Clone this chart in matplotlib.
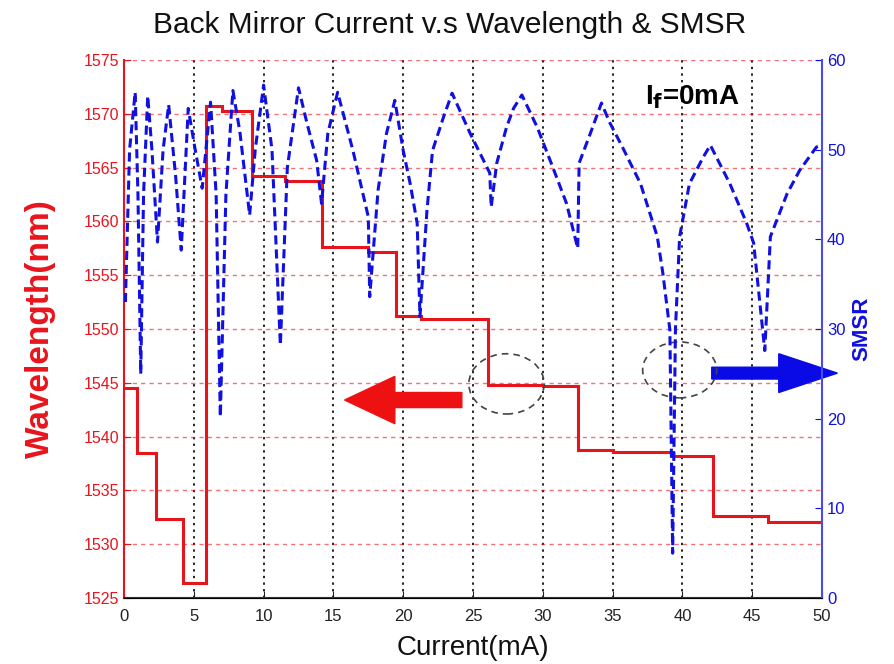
import matplotlib
matplotlib.use("Agg")
import matplotlib.pyplot as plt
from matplotlib.patches import Ellipse, FancyArrow

plt.rcParams["font.family"] = ["Liberation Sans", "DejaVu Sans"]

# wavelength step curve (left axis): step edges in mA and level in nm
wl_edges = [0, 0.9, 2.3, 4.2, 5.9, 7.0, 9.15, 11.5, 14.15, 17.5, 19.5, 21.3,
            26.1, 30.0, 32.5, 35.0, 39.3, 42.2, 46.1, 50]
wl_levels = [1544.5, 1538.5, 1532.3, 1526.4, 1570.7, 1570.3, 1564.2, 1563.8,
             1557.6, 1557.2, 1551.2, 1550.9, 1544.8, 1544.7, 1538.75, 1538.6,
             1538.2, 1532.6, 1532.1]

# SMSR curve (right axis)
smsr_x = [0.1, 0.4, 0.8, 1.0, 1.2, 1.4, 1.7, 2.0, 2.4, 2.8, 3.2, 3.7, 4.1,
          4.6, 5.1, 5.6, 6.2, 6.6, 6.9, 7.3, 7.8, 8.3, 9.0, 9.4, 10.0, 10.6,
          11.2, 11.7, 12.5, 13.1, 13.8, 14.15, 14.6, 15.3, 16.4, 17.5, 17.6,
          18.2, 18.8, 19.4, 20.0, 20.5, 21.0, 21.2, 21.7, 22.1, 22.9, 23.5,
          24.8, 25.5, 26.2, 26.3, 26.7, 27.4, 27.9, 28.5, 29.6, 30.7, 31.7,
          32.5, 32.6, 33.4, 34.2, 34.8, 35.7, 37.0, 38.2, 38.6, 39.1, 39.3,
          39.5, 39.8, 40.5, 41.5, 42.0, 43.4, 44.6, 45.1, 45.9, 46.3, 47.5,
          48.4, 49.6, 50.0]
smsr_y = [33, 50, 56.4, 45, 25, 45, 56, 50, 39.7, 50, 55, 47, 38.8,
          54.6, 50, 45.7, 55.3, 45, 20.2, 45, 56.6, 52, 42.7, 50, 57.2, 50,
          28.2, 48, 56.9, 53, 48.8, 44, 51.8, 56.4, 49.9, 42.5, 33.6,
          45.5, 51.8, 55.5, 49.9, 46.2, 41.8, 31.4, 43.2, 49.9, 53.7, 56.3,
          51.8, 49.6, 47.4, 43.6, 48.5, 52.5, 54.6, 56.1, 52.5, 48.1, 44.0,
          39.0, 48.5, 51.8, 55.2, 53.0, 50.3, 46.2, 40.3, 36.2, 29.9, 5.0,
          30.0, 40.3, 46.2, 49.2, 50.5, 46.2, 41.8, 39.6, 27.6, 40.3, 45.1,
          47.7, 50.3, 50.5]

RED = "#e8141c"
BLUE = "#1010e0"

fig = plt.figure(figsize=(8.94, 6.64), dpi=100, facecolor="white")
ax = fig.add_axes([0.1387, 0.0994, 0.7808, 0.8102])
ax2 = ax.twinx()

ax.set_xlim(0, 50)
ax.set_ylim(1525, 1575)
ax2.set_ylim(0, 60)
ax.set_xticks(range(0, 51, 5))
ax.set_yticks(range(1525, 1576, 5))
ax2.set_yticks(range(0, 61, 10))

ax.grid(axis="y", color=RED, linestyle=(0, (3, 3)), linewidth=1, alpha=0.6)
ax.grid(axis="x", color="#222222", linestyle=(0, (1.2, 2.2)), linewidth=1.4)
ax.set_axisbelow(True)

ax.stairs(wl_levels, wl_edges, baseline=None, color=RED, linewidth=2.2)
ax2.plot(smsr_x, smsr_y, color=BLUE, linewidth=2.2, dashes=(3, 1.6))

for a in (ax, ax2):
    a.spines["top"].set_visible(False)
ax.spines["left"].set_color(RED)
ax.spines["right"].set_visible(False)
ax2.spines["left"].set_visible(False)
ax2.spines["right"].set_color("#4a4af0")
ax2.spines["right"].set_linewidth(1.5)
ax.spines["left"].set_linewidth(1.5)
ax.spines["bottom"].set_color("#333333")
ax.spines["bottom"].set_linewidth(1.5)

ax.tick_params(axis="y", direction="in", colors=RED, labelsize=11.5, length=5)
ax.tick_params(axis="x", direction="in", colors="#222222", labelsize=12,
               length=5, pad=8)
ax2.tick_params(axis="y", direction="in", colors=BLUE, labelsize=12, length=5)

ax.set_ylabel("Wavelength(nm)", color=RED, fontsize=24, fontweight="bold", va="center")
ax.yaxis.set_label_coords(-0.120, 0.5)
ax2.set_ylabel("SMSR", color=BLUE, fontsize=16, fontweight="bold", va="center")
ax2.yaxis.set_label_coords(1.057, 0.5)
ax.set_xlabel("Current(mA)", color="#111111", fontsize=20, va="center")
ax.xaxis.set_label_coords(0.5, -0.093)
fig.text(450 / 894, 1 - 25 / 664, "Back Mirror Current v.s Wavelength & SMSR",
         fontsize=21.5, ha="center", va="center", color="#111111")

ax2.text(40.7, 1571.6, r"I$_\mathbf{f}$=0mA", transform=ax.transData,
         fontsize=20, fontweight="bold", ha="center", va="center")

# direction arrows
ax2.add_patch(FancyArrow(24.2, 1543.4, -8.4, 0, width=1.4, head_width=4.4,
                         head_length=3.6, length_includes_head=True,
                         color="#ee1111", transform=ax.transData))
ax2.add_patch(FancyArrow(42.1, 1545.9, 9.0, 0, width=1.1, head_width=3.6,
                         head_length=4.2, length_includes_head=True,
                         color="#0a0ae6", transform=ax.transData, clip_on=False))

# dashed ellipses
ax2.add_patch(Ellipse((27.4, 1544.9), 5.4, 5.6, fill=False, edgecolor="#444444",
                      linestyle=(0, (4, 3)), linewidth=1.2, transform=ax.transData))
ax2.add_patch(Ellipse((39.8, 1546.2), 5.3, 5.2, fill=False, edgecolor="#444444",
                      linestyle=(0, (4, 3)), linewidth=1.2, transform=ax.transData))

fig.savefig("out.png", dpi=100, facecolor="white")
